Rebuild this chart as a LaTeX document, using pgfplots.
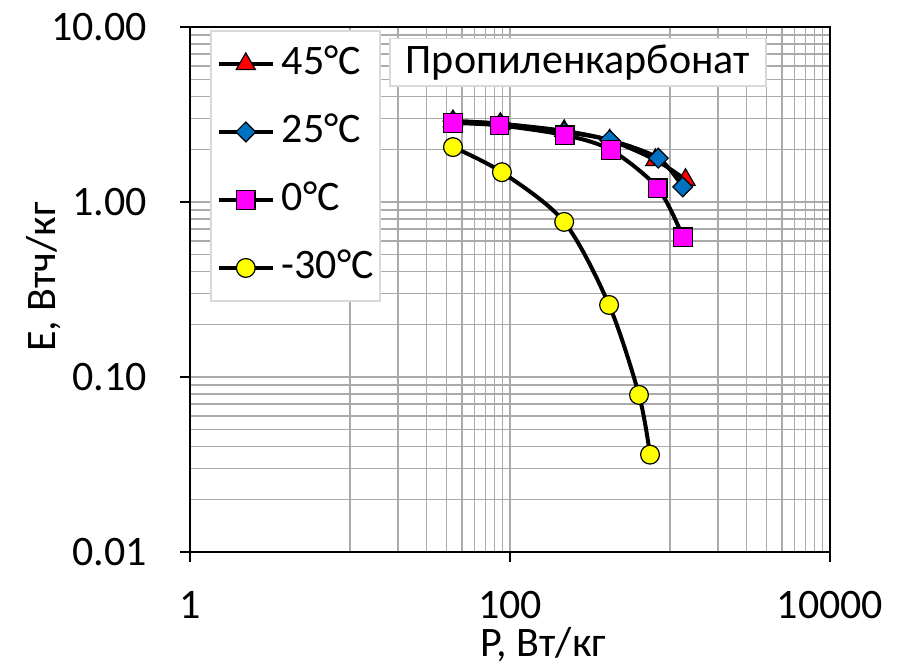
\documentclass[border=0pt]{standalone}
\usepackage{pgfplots}
\pgfplotsset{compat=1.18}
\usepackage{fontspec}
\setmainfont{Carlito}
\definecolor{gridgray}{RGB}{170,170,170}
\definecolor{legbord}{RGB}{217,217,217}
\definecolor{mblue}{RGB}{0,112,192}
\definecolor{mmag}{RGB}{255,0,255}
\definecolor{myel}{RGB}{255,255,0}
\definecolor{mred}{RGB}{255,0,0}
\newcommand{\bigf}{\fontsize{21}{25}\selectfont}
\begin{document}
\begin{tikzpicture}
\useasboundingbox (-95pt,-57.5pt) rectangle (353.5pt,276pt);
\begin{axis}[
  at={(0,0)}, anchor=south west,
  scale only axis, width=320pt, height=262.5pt,
  xmode=log, ymode=log,
  xmin=1, xmax=10000, ymin=0.01, ymax=10,
  xtick={1,100,10000}, xticklabels={1,100,10000},
  minor xtick={10,20,30,40,50,60,70,80,90,1000,2000,3000,4000,5000,6000,7000,8000,9000},
  ytick={0.01,0.1,1,10}, yticklabels={0.01,0.10,1.00,10.00},
  minor ytick={0.02,0.03,0.04,0.05,0.06,0.07,0.08,0.09,0.2,0.3,0.4,0.5,0.6,0.7,0.8,0.9,2,3,4,5,6,7,8,9},
  grid=both,
  major grid style={gridgray, line width=0.7pt},
  minor grid style={gridgray, line width=0.7pt},
  xtick pos=bottom, ytick pos=left,
  tick align=outside, major tick length=5pt, minor tick length=0pt,
  major tick style={black, line width=1.4pt},
  axis line style={black, line width=0.6pt},
  /pgf/number format/assume math mode=true,
  tick label style={font=\bigf},
  xticklabel style={anchor=center, yshift=-21.5pt},
  yticklabel style={anchor=east, xshift=-13pt},
  xlabel={P, Вт/кг}, ylabel={E, Втч/кг},
  label style={font=\bigf},
  x label style={at={(axis description cs:0.552,-0.176)}, anchor=center},
  y label style={at={(axis description cs:-0.228,0.524)}, anchor=center, rotate=0},
  legend style={at={(axis description cs:0.03125,0.994)}, anchor=north west,
    draw=legbord, line width=0.8pt, fill=white, font=\bigf,
    inner xsep=3pt, inner ysep=8pt, row sep=17pt,
    nodes={inner sep=0pt, text height=14pt, text depth=3pt},
    /tikz/every odd column/.append style={column sep=3.5pt}},
  legend cell align=left,
  legend image code/.code={\draw[#1, mark repeat=2, mark phase=2] plot coordinates {(0pt,0pt)(13.5pt,0pt)(27pt,0pt)};},
]
\addplot[black, line width=2pt, smooth, mark=triangle*, mark size=5.5pt,
  mark options={fill=mred, draw=black, line width=0.6pt}]
  coordinates {(44,2.9)(87,2.8)(218,2.55)(420,2.25)(810,1.74)(1250,1.34)};
\addlegendentry{45°C}
\addplot[black, line width=2pt, smooth, mark=square*, mark size=3.5pt,
  mark options={fill=mblue, draw=black, line width=0.6pt, rotate=45}]
  coordinates {(44,2.9)(87,2.8)(218,2.51)(420,2.26)(845,1.78)(1200,1.22)};
\addlegendentry{25°C}
\addplot[black, line width=2pt, smooth, mark=square*, mark size=4.6pt,
  mark options={fill=mmag, draw=black, line width=0.6pt}]
  coordinates {(44,2.83)(86,2.74)(220,2.41)(428,1.98)(840,1.20)(1206,0.63)};
\addlegendentry{0°C}
\addplot[black, line width=2pt, smooth, mark=*, mark size=4.7pt,
  mark options={fill=myel, draw=black, line width=0.6pt}]
  coordinates {(44,2.06)(89,1.48)(218,0.77)(416,0.258)(640,0.079)(750,0.036)};
\addlegendentry{-30°C}
\draw[black, line width=1.5pt] (rel axis cs:0,1) -- (rel axis cs:0,0) -- (rel axis cs:1,0);
\node[draw=legbord, line width=0.8pt, fill=white, font=\bigf, inner xsep=8pt,
  minimum height=23.5pt, text height=14pt, text depth=3pt]
  at (rel axis cs:0.606,0.933) {Пропиленкарбонат};
\end{axis}
\end{tikzpicture}
\end{document}
